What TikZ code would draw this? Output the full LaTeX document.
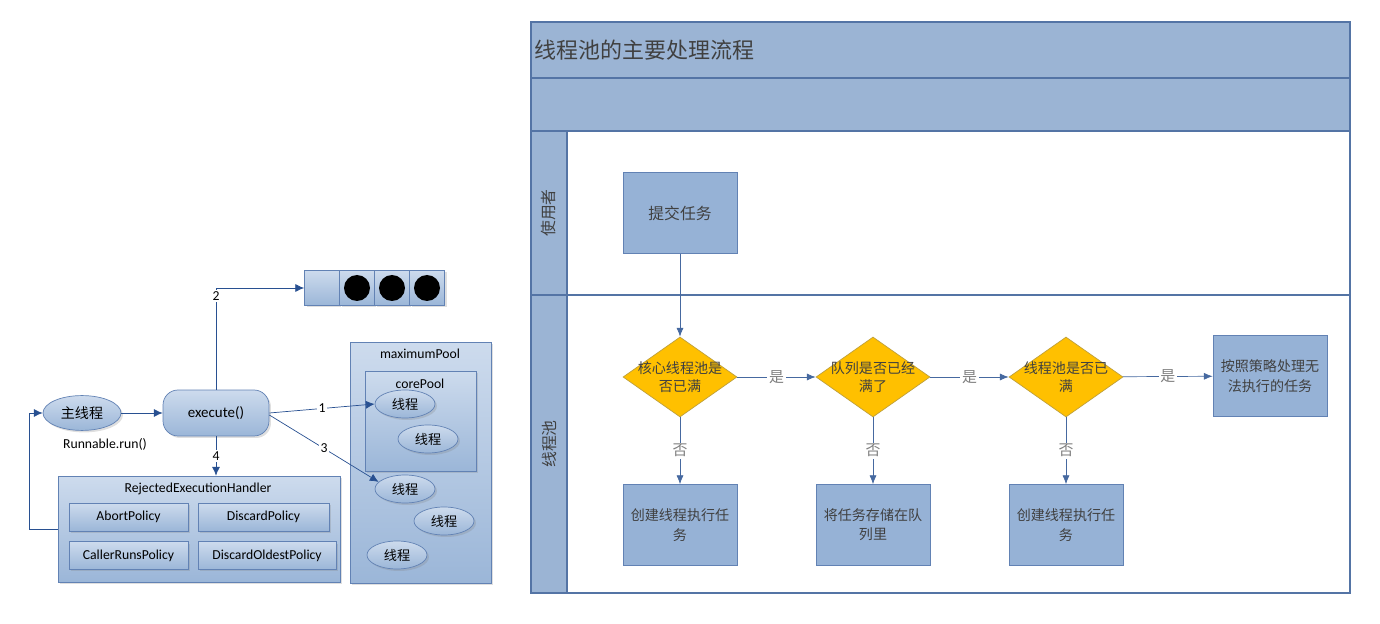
\documentclass[tikz,border=0pt]{standalone}
\usepackage{fontspec}
\setmainfont{Carlito}
\newfontfamily\cjk{Noto Sans CJK SC}
\usetikzlibrary{shapes.geometric,arrows.meta,shadows}

\definecolor{lanefill}{RGB}{155,180,212}
\definecolor{laneline}{RGB}{84,116,165}
\definecolor{boxfill}{RGB}{150,178,214}
\definecolor{boxline}{RGB}{98,130,180}
\definecolor{gold}{RGB}{255,192,0}
\definecolor{goldline}{RGB}{190,160,60}
\definecolor{flowblue}{RGB}{70,105,160}
\definecolor{softtop}{RGB}{205,219,237}
\definecolor{softbot}{RGB}{155,182,216}
\definecolor{edgeblue}{RGB}{40,80,145}
\definecolor{inktext}{RGB}{64,64,64}

\begin{document}
\begin{tikzpicture}
[
    x=0.02cm, y=-0.02cm,
    every node/.style={font=\fontsize{7.8}{9}\selectfont},
    soft/.style={draw=boxline, top color=softtop, bottom color=softbot,
        drop shadow={opacity=0.25, shadow xshift=0.04cm, shadow yshift=-0.04cm}},
    thread/.style={soft, ellipse, minimum width=1.2cm, minimum height=0.56cm,
        inner sep=0pt, font=\cjk\fontsize{7.5}{8}\selectfont},
    policy/.style={soft, rectangle, minimum height=0.56cm, inner sep=0pt},
    link/.style={draw=edgeblue, -{Latex[length=5pt,width=4.5pt]}},
    tag/.style={fill=white, inner sep=1pt},
    lane/.style={draw=laneline, fill=lanefill, line width=0.8pt},
    task/.style={draw=boxline, fill=boxfill, minimum width=2.28cm, minimum height=1.62cm,
        align=center, text=inktext, font=\cjk\fontsize{8}{11}\selectfont},
    decision/.style={diamond, draw=goldline, fill=gold, minimum width=2.28cm,
        minimum height=1.6cm, inner sep=0pt},
    asks/.style={align=center, text=inktext, font=\cjk\fontsize{8}{10}\selectfont},
    flow/.style={draw=flowblue, -{Latex[length=5pt,width=4pt]}},
    verdict/.style={fill=white, inner sep=1pt, text=gray, font=\cjk\fontsize{8.5}{10}\selectfont}
]
    \useasboundingbox (0,0) rectangle (1380,624);

    % left: how execute() hands out a task
    \node [soft, minimum width=2.82cm, minimum height=4.82cm] (maxpool) at (420.5,462.5) {};
    \node (maxtitle) at (420,354) {maximumPool};
    \node [soft, minimum width=2.22cm, minimum height=2cm] (corepool) at (420.5,421) {};
    \node (coretitle) at (420,384) {corePool};
    \node [thread] (t1) at (405,404) {线程};
    \node [thread] (t2) at (428,439) {线程};
    \node [thread] (t3) at (405,489) {线程};
    \node [thread] (t4) at (444,521) {线程};
    \node [thread] (t5) at (397,555) {线程};

    \node [soft, minimum width=5.64cm, minimum height=2.12cm] (rejected) at (199,529) {};
    \node (rejtitle) at (198,489) {RejectedExecutionHandler};
    \node [policy, minimum width=2.38cm] (abort) at (128.5,517) {AbortPolicy};
    \node [policy, minimum width=2.62cm] (discard) at (263.5,517) {DiscardPolicy};
    \node [policy, minimum width=2.38cm] (callerruns) at (128.5,555.5) {CallerRunsPolicy};
    \node [policy, minimum width=2.76cm] (oldest) at (267,555.5) {DiscardOldestPolicy};

    \foreach \i/\x in {0/322,1/357,2/392,3/427}
        \node [soft, minimum width=0.7cm, minimum height=0.7cm, inner sep=0pt] (q\i) at (\x,288) {};
    \foreach \i in {1,2,3}
        \fill (q\i) circle (0.26cm);

    \node [soft, ellipse, minimum width=1.56cm, minimum height=0.68cm,
        font=\cjk\fontsize{8}{9}\selectfont] (main) at (82,413) {主线程};
    \node (run) at (105,444) {Runnable.run()};
    \node [soft, rounded corners=0.3cm, minimum width=2.12cm, minimum height=0.92cm,
        font=\fontsize{8.5}{9}\selectfont] (exec) at (216,413) {execute()};

    \draw [link] (main) -- (exec);
    \draw [link] (exec.north) |- node [tag, pos=0.46] (n2) {2} (q0.west);
    \draw [link] (exec.east) -- node [tag] (n1) {1} (t1.west);
    \draw [link] ([yshift=-0.04cm]exec.east) -- node [tag] (n3) {3} (t3.165);
    \draw [link] (exec.south) -- node [tag] (n4) {4} (exec.south |- rejected.north);
    \draw [link] (rejected.west) -- ++(-28,0) |- (main.west);

    % right: swimlane flow
    \draw [lane] (531,22) rectangle (1350,78);
    \draw [lane] (531,78) rectangle (1350,131);
    \draw [draw=laneline, line width=0.8pt, fill=white] (567,131) rectangle (1350,593);
    \draw [lane] (531,131) rectangle (567,295);
    \draw [lane] (531,295) rectangle (567,593);
    \draw [laneline, line width=0.8pt] (531,295) -- (1350,295);
    \node [anchor=west, inner sep=2pt, text=inktext, font=\cjk\fontsize{12.5}{14}\selectfont]
        (title) at (531,50) {线程池的主要处理流程};
    \node [rotate=90, text=inktext, font=\cjk\fontsize{9}{10}\selectfont] (user) at (549,213) {使用者};
    \node [rotate=90, text=inktext, font=\cjk\fontsize{9}{10}\selectfont] (pool) at (549,444) {线程池};

    \node [task, font=\cjk\fontsize{9}{11}\selectfont] (submit) at (680,213) {提交任务};
    \node [decision, label={[asks]center:{核心线程池是\\否已满}}] (core) at (680,377) {};
    \node [decision, label={[asks]center:{队列是否已经\\满了}}] (qfull) at (873,377) {};
    \node [decision, label={[asks]center:{线程池是否已\\满}}] (maxfull) at (1066,377) {};
    \node [task] (reject) at (1270,376) {按照策略处理无\\法执行的任务};
    \node [task] (newcore) at (680,525) {创建线程执行任\\务};
    \node [task] (enqueue) at (873,525) {将任务存储在队\\列里};
    \node [task] (newmax) at (1066,525) {创建线程执行任\\务};

    \draw [flow] (submit) -- (core);
    \draw [flow] (core) -- node [verdict] (yes1) {是} (qfull);
    \draw [flow] (qfull) -- node [verdict] (yes2) {是} (maxfull);
    \draw [flow] (maxfull) -- node [verdict] (yes3) {是} (reject);
    \draw [flow] (core) -- node [verdict] (no1) {否} (newcore);
    \draw [flow] (qfull) -- node [verdict] (no2) {否} (enqueue);
    \draw [flow] (maxfull) -- node [verdict] (no3) {否} (newmax);
\end{tikzpicture}
\end{document}
